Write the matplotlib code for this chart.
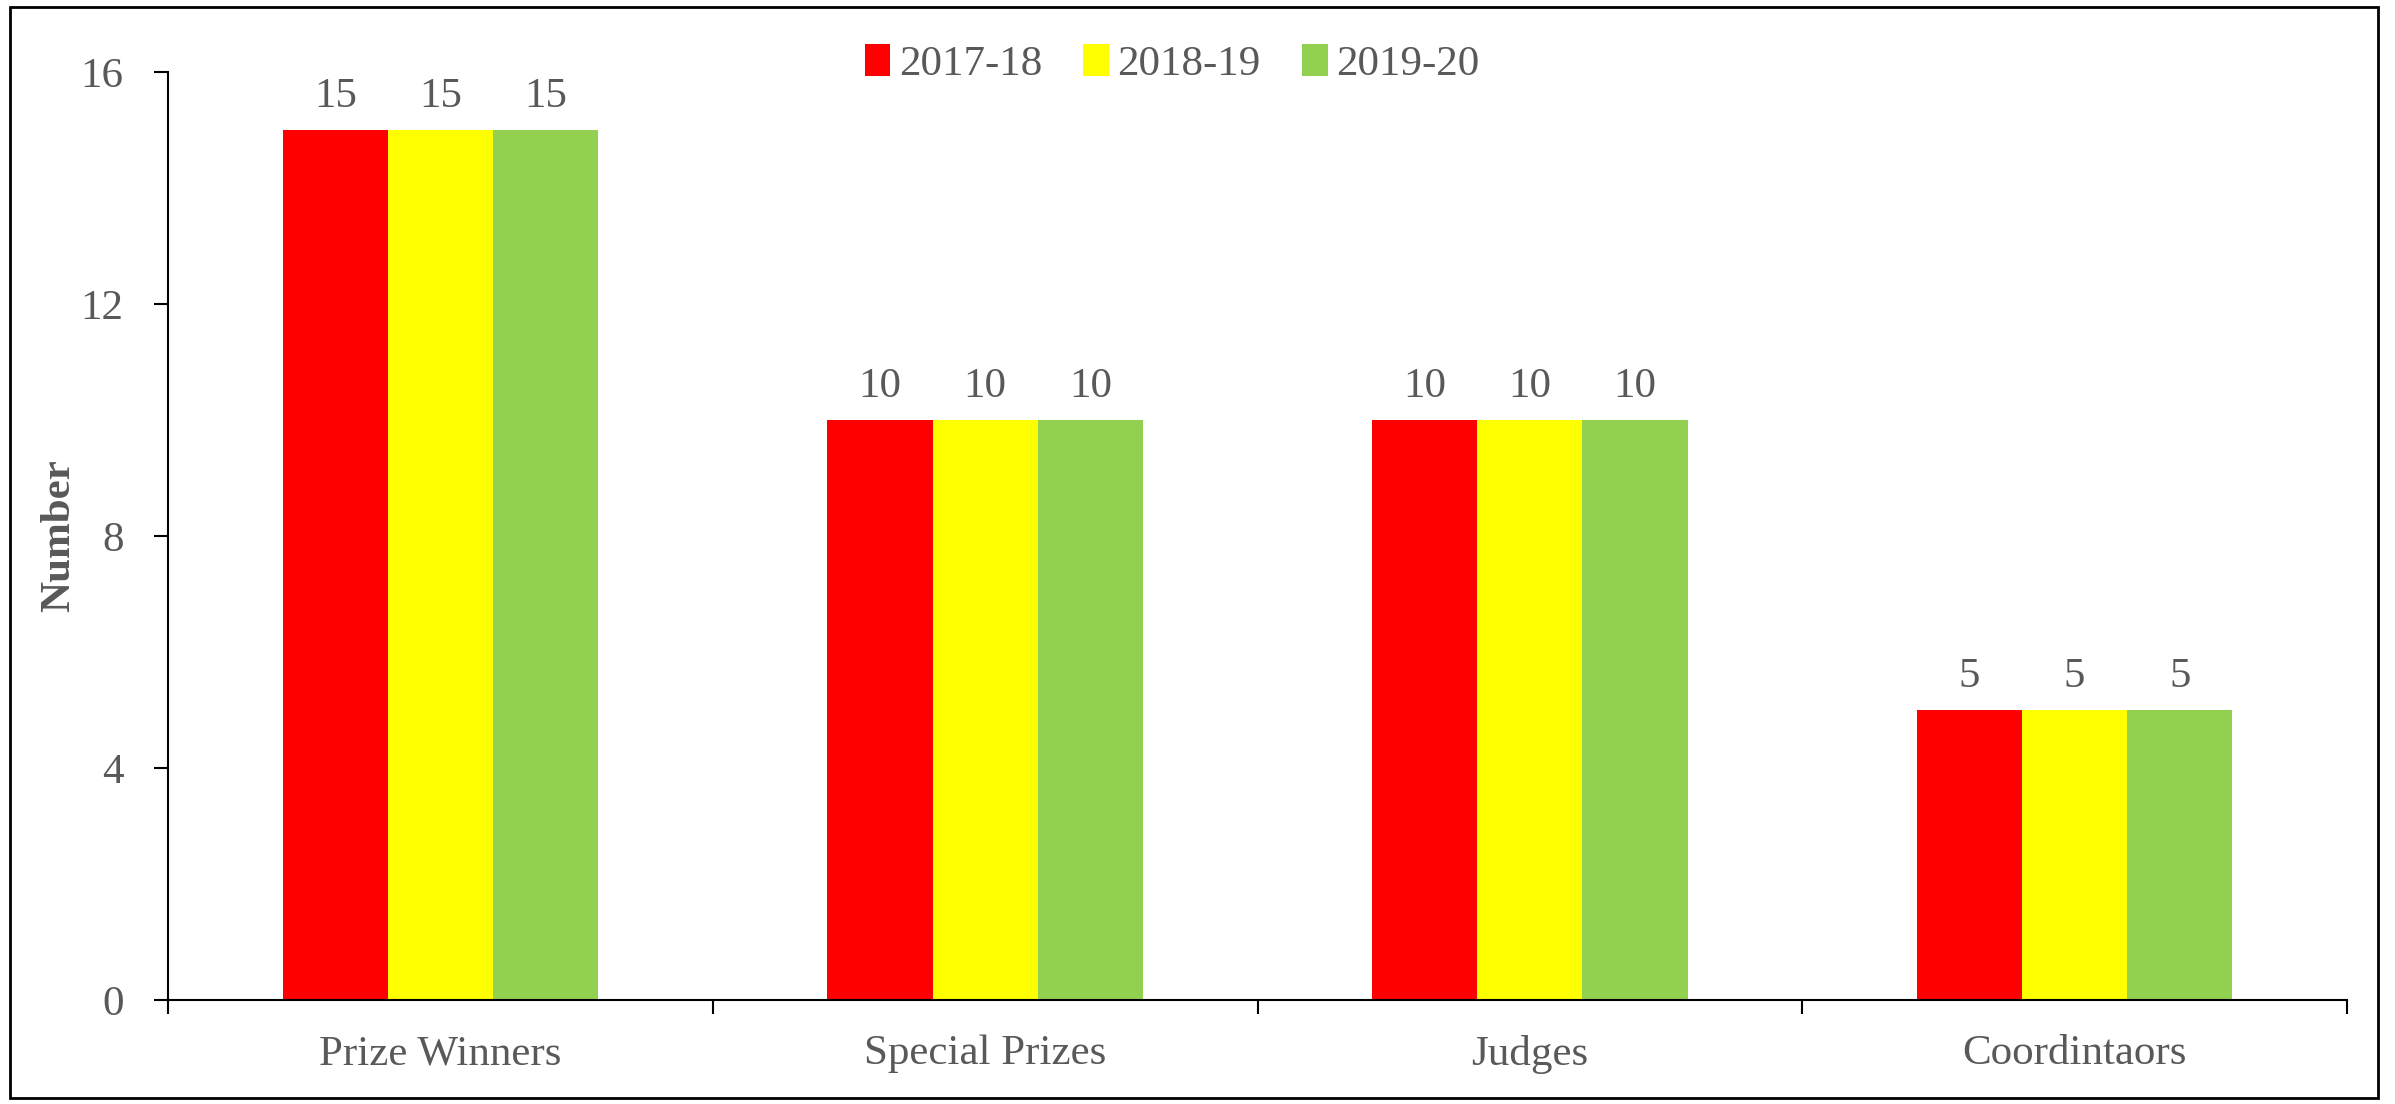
import matplotlib
matplotlib.use("Agg")
import matplotlib.pyplot as plt
from matplotlib.patches import Rectangle
import numpy as np

categories = ["Prize Winners", "Special Prizes", "Judges", "Coordintaors"]
series_names = ["2017-18", "2018-19", "2019-20"]
values_2017_18 = [15, 10, 10, 5]
values_2018_19 = [15, 10, 10, 5]
values_2019_20 = [15, 10, 10, 5]
colors = ["#FF0000", "#FFFF00", "#92D050"]
yticks = [0, 4, 8, 12, 16]

plt.rcParams['font.family'] = ['Liberation Serif', 'DejaVu Serif']
text_color = "#595959"
fs = 31

W, H = 2395, 1104
fig = plt.figure(figsize=(W / 100, H / 100), dpi=100)
ax = fig.add_axes([168 / W, 1 - 1000 / H, (2347 - 168) / W, (1000 - 72) / H])

x = np.arange(len(categories))
bw = 0.193
series = [values_2017_18, values_2018_19, values_2019_20]
for i, (vals, name, c) in enumerate(zip(series, series_names, colors)):
    bars = ax.bar(x + (i - 1) * bw, vals, width=bw, color=c, label=name, linewidth=0)
    ax.bar_label(bars, labels=[str(v) for v in vals], padding=10, fontsize=fs, color=text_color)

ax.set_xlim(-0.5, len(categories) - 0.5)
ax.set_ylim(0, 16)
ax.set_yticks(yticks)
ax.set_yticklabels([str(t) for t in yticks])
ax.set_xticks(x)
ax.set_xticklabels(categories)
ax.set_xticks(np.arange(len(categories) + 1) - 0.5, minor=True)
ax.tick_params(axis='x', which='major', length=0, pad=25, labelsize=fs, labelcolor=text_color)
ax.tick_params(axis='x', which='minor', length=10, width=1.5, direction='out', color='black')
ax.tick_params(axis='y', which='major', length=10, width=1.5, direction='out', pad=22, labelsize=fs, labelcolor=text_color)

for s in ['top', 'right']:
    ax.spines[s].set_visible(False)
for s in ['left', 'bottom']:
    ax.spines[s].set_linewidth(1.5)
    ax.spines[s].set_color('black')

ax.set_ylabel("Number", fontsize=fs, fontweight='bold', color=text_color)
ax.yaxis.set_label_coords((78 - 168) / (2347 - 168), 0.5)

leg = fig.legend(loc='center', bbox_to_anchor=(1172 / W, 1 - 64 / H), ncol=3, frameon=False,
                 fontsize=fs, handlelength=0.6, handleheight=0.75, handletextpad=0.2,
                 columnspacing=0.95, labelcolor=text_color)

fig.patches.append(Rectangle((10 / W, 1 - 1098 / H), (2378 - 10) / W, (1098 - 7) / H,
                             transform=fig.transFigure, fill=False, edgecolor='black',
                             linewidth=2))

fig.savefig("out.png", dpi=100)
